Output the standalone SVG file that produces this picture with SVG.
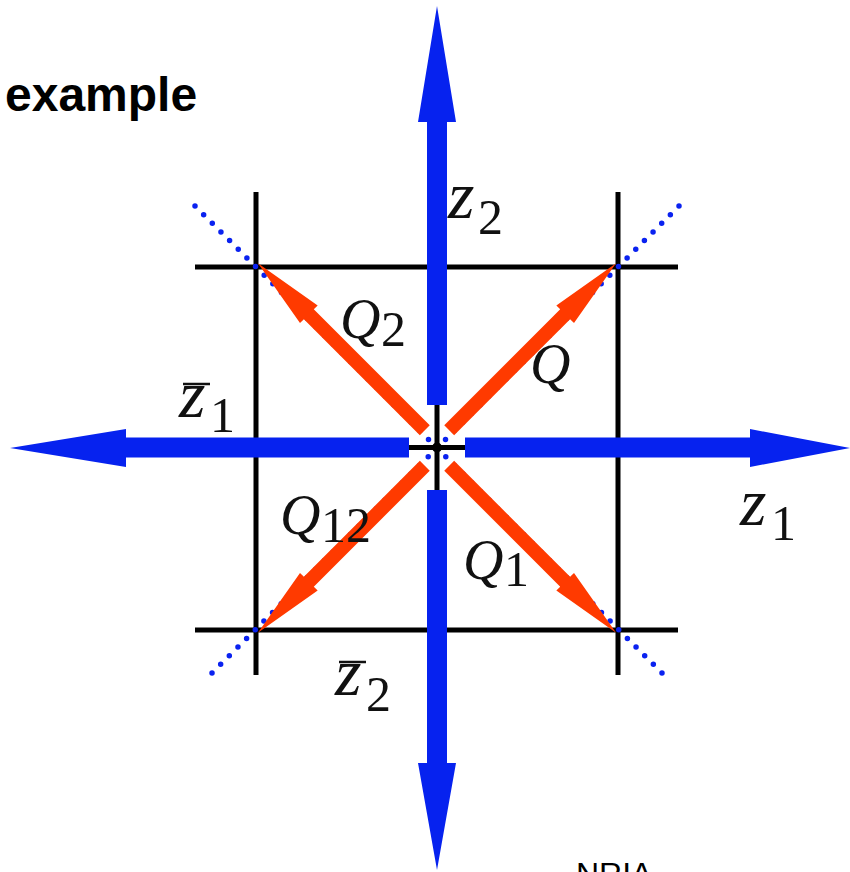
<svg xmlns="http://www.w3.org/2000/svg" width="850" height="872" viewBox="0 0 850 872">
<style>
.grid{stroke:#000;stroke-width:5;fill:none}
.dots{stroke:#0a22f0;stroke-width:5.5;stroke-linecap:round;stroke-dasharray:0 12.23;fill:none}
.blue{fill:#0622ef}
.red{fill:#ff3a00}
.lbl{font-family:"Liberation Serif","DejaVu Serif",serif;font-style:italic;font-size:56px;fill:#111}
.zl{font-family:"Liberation Serif","DejaVu Serif",serif;font-style:italic;font-size:68px;fill:#111}
.sub{font-family:"Liberation Serif","DejaVu Serif",serif;font-size:50px;fill:#111}
.bar{stroke:#111;stroke-width:2.5}
</style>
<defs>
<path id="redArrow" d="M0,-7 L164,-7 L164,-12.5 L236,0 L164,12.5 L164,7 L0,7 Z"/>
</defs>
<rect width="850" height="872" fill="#fff"/>
<text x="5" y="111" font-family="Liberation Sans, Arial, sans-serif" font-weight="bold" font-size="48" fill="#000">example</text>
<g id="grid">
<line class="grid" x1="256" y1="192" x2="256" y2="675"/>
<line class="grid" x1="618" y1="192" x2="618" y2="675"/>
<line class="grid" x1="195" y1="267" x2="678" y2="267"/>
<line class="grid" x1="195" y1="630" x2="678" y2="630"/>
</g>
<g id="diagonals">
<line class="dots" x1="195" y1="206" x2="662" y2="673"/>
<line class="dots" x1="679" y1="206" x2="212" y2="673"/>
</g>
<g id="connectors">
<g id="axis-z2"><path class="blue" d="M427,405 L427,122 L418,122 L437,6 L456,122 L447,122 L447,405 Z"/></g>
<g id="axis-z2bar"><path class="blue" d="M427,490 L427,763 L418,763 L437,870 L456,763 L447,763 L447,490 Z"/></g>
<g id="axis-z1bar"><path class="blue" d="M409,437.5 L126,437.5 L126,429 L10,448 L126,467 L126,457.5 L409,457.5 Z"/></g>
<g id="axis-z1"><path class="blue" d="M465,437.5 L750,437.5 L750,429 L850,448 L750,467 L750,457.5 L465,457.5 Z"/></g>
<g id="arrow-Q"><use href="#redArrow" class="red" transform="translate(449.2,430.2) rotate(-45)"/></g>
<g id="arrow-Q2"><use href="#redArrow" class="red" transform="translate(424.8,430.2) rotate(-135)"/></g>
<g id="arrow-Q1"><use href="#redArrow" class="red" transform="translate(449.2,465.8) rotate(45)"/></g>
<g id="arrow-Q12"><use href="#redArrow" class="red" transform="translate(424.8,465.8) rotate(135)"/></g>
</g>
<g id="center">
<line class="grid" x1="409" y1="447.5" x2="465" y2="447.5"/>
<line class="grid" x1="437" y1="405" x2="437" y2="490"/>
<circle cx="437" cy="447.5" r="5" fill="#000"/>
</g>
<g id="label-z2"><text class="zl" x="448" y="218">z</text><text class="sub" x="478" y="234">2</text></g>
<g id="label-Q2"><text class="lbl" x="340" y="338">Q</text><text class="sub" x="381" y="346">2</text></g>
<g id="label-Q"><text class="lbl" x="530" y="383">Q</text></g>
<g id="label-z1bar"><line class="bar" x1="183" y1="384" x2="210" y2="384"/><text class="zl" x="179" y="417">z</text><text class="sub" x="210" y="432">1</text></g>
<g id="label-Q12"><text class="lbl" x="280" y="534">Q</text><text class="sub" x="321" y="542">12</text></g>
<g id="label-Q1"><text class="lbl" x="463" y="579">Q</text><text class="sub" x="504" y="586">1</text></g>
<g id="label-z1"><text class="zl" x="740" y="525">z</text><text class="sub" x="771" y="540">1</text></g>
<g id="label-z2bar"><line class="bar" x1="339" y1="662" x2="366" y2="662"/><text class="zl" x="335" y="695">z</text><text class="sub" x="366" y="711">2</text></g>
<text x="576" y="885" font-family="Liberation Sans, Arial, sans-serif" font-size="32" fill="#000">NRIA</text>
</svg>
